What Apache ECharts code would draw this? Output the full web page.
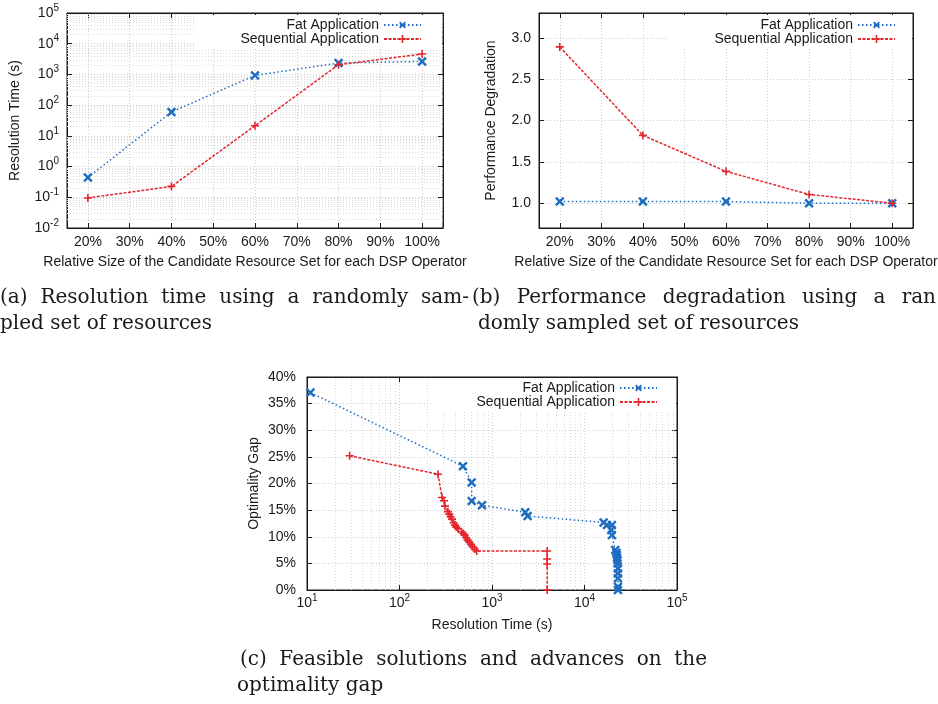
<!DOCTYPE html>
<html>
<head>
<meta charset="utf-8">
<script src="https://cdn.jsdelivr.net/npm/echarts@6/dist/echarts.min.js"></script>
<style>
  html, body { margin: 0; padding: 0; background: #fff; }
  #chart { width: 938px; height: 704px; }
</style>
</head>
<body>
<div id="chart"></div>
<script>
// ---- data ----
const seriesNames = ['Fat Application', 'Sequential Application'];

// (a) / (b): relative size of the candidate resource set (%)
const sizeTicks = [20, 30, 40, 50, 60, 70, 80, 90, 100];
const sizes = [20, 40, 60, 80, 100];
const fatResolution = [0.44, 60, 930, 2350, 2650];
const seqResolution = [0.095, 0.226, 21.4, 2075, 4620];
const fatDegradation = [1.02, 1.02, 1.02, 1.0, 1.0];
const seqDegradation = [2.89, 1.82, 1.385, 1.105, 1.0];
const degradationTicks = [1.0, 1.5, 2.0, 2.5, 3.0];

// (c): resolution time (s) vs optimality gap (%)
const fatGapTime = [10.9, 485, 603, 603, 780, 2290, 2425, 16100, 17500, 19800, 19500, 19800,
  21500, 22100, 22400, 22500, 22800, 22800, 23000, 23000, 23000, 23000, 23000];
const fatGap = [37.07, 23.25, 20.2, 16.7, 15.9, 14.6, 13.9, 12.69, 12.19, 12.19, 11.25, 10.31,
  7.5, 7.0, 6.56, 6.06, 5.62, 5.0, 4.06, 3.12, 2.19, 0.62, 0];
const seqGapTime = [28.9, 261, 288, 303, 310, 334, 345, 357, 369, 385, 398, 411, 429, 469, 489,
  506, 527, 545, 568, 593, 617, 649, 682, 3950, 3950, 3950, 3950];
const seqGap = [25.2, 21.75, 17.37, 16.75, 15.75, 14.69, 14.25, 13.75, 13.31, 12.62, 12.19, 11.81,
  11.5, 10.94, 10.62, 10.31, 9.81, 9.37, 9.0, 8.56, 8.12, 7.69, 7.31, 7.31, 5.81, 4.88, 0];

// log-axis decades that get 2..9 minor grid lines
const resolutionDecades = [0.01, 0.1, 1, 10, 100, 1000, 10000];
const gapTimeDecades = [10, 100, 1000, 10000];
const minorSteps = [2, 3, 4, 5, 6, 7, 8, 9];

// ---- styling ----
const SANS = '"Liberation Sans", Arial, Helvetica, sans-serif';
const SERIF = '"DejaVu Serif", serif';
const INK = '#1a1a1a';
const GRIDLINE = '#cdcdcd';
const MINOR_GRIDLINE = '#dadada';
const BLUE = '#1f6dbf';
const RED = '#e3262d';
const FS = 14;
const PLUS = 'path://M4,0H6V4H10V6H6V10H4V6H0V4H4Z';
const CROSS = 'path://M3.9,0H6.1V3.9H10V6.1H6.1V10H3.9V6.1H0V3.9H3.9Z';

const zip = (xs, ys) => xs.map((x, i) => [x, ys[i]]);
const minorValues = decades => decades.flatMap(d => minorSteps.map(m => +(d * m).toPrecision(6)));

const powLabel = v => '{b|10}{s|' + Math.round(Math.log10(v)) + '}';
const powRich = {
  b: { fontSize: FS, lineHeight: 14, verticalAlign: 'bottom', fontFamily: SANS, color: INK },
  s: { fontSize: 10, lineHeight: 10, verticalAlign: 'bottom', padding: [0, 0, 7, 0], fontFamily: SANS, color: INK }
};

function axis(gridIndex, extra) {
  return Object.assign({
    gridIndex,
    nameLocation: 'middle',
    nameMoveOverlap: false,
    nameTextStyle: { color: INK, fontFamily: SANS, fontSize: FS },
    axisLine: { show: true, onZero: false, lineStyle: { color: INK, width: 1 } },
    axisTick: { show: true, inside: true, length: 5, lineStyle: { color: INK, width: 1 } },
    axisLabel: { color: INK, fontFamily: SANS, fontSize: FS },
    splitLine: { show: true, lineStyle: { color: GRIDLINE, type: [1, 2], width: 1 } }
  }, extra);
}
// tick-only copy of an axis on the opposite side of the frame
function mirror(base, position) {
  return Object.assign({}, base, {
    position, name: '',
    axisLabel: { show: false },
    splitLine: { show: false }
  });
}

// (a)
const xA = axis(0, { type: 'value', position: 'bottom', min: 15, max: 105,
  name: 'Relative Size of the Candidate Resource Set for each DSP Operator', nameGap: 27,
  axisTick: { show: true, inside: true, length: 5, customValues: sizeTicks, lineStyle: { color: INK } },
  axisLabel: { color: INK, fontFamily: SANS, fontSize: FS, margin: 7, customValues: sizeTicks, formatter: '{value}%' } });
const yA = axis(0, { type: 'log', logBase: 10, position: 'left', min: 0.01, max: 100000, splitNumber: 7,
  name: 'Resolution Time (s)', nameGap: 45,
  axisLabel: { color: INK, fontFamily: SANS, fontSize: FS, margin: 8, formatter: powLabel, rich: powRich } });
// (b)
const xB = axis(1, { type: 'value', position: 'bottom', min: 15, max: 105,
  name: 'Relative Size of the Candidate Resource Set for each DSP Operator', nameGap: 27,
  axisTick: { show: true, inside: true, length: 5, customValues: sizeTicks, lineStyle: { color: INK } },
  axisLabel: { color: INK, fontFamily: SANS, fontSize: FS, margin: 7, customValues: sizeTicks, formatter: '{value}%' } });
const yB = axis(1, { type: 'value', position: 'left', min: 0.7, max: 3.3,
  name: 'Performance Degradation', nameGap: 41,
  axisTick: { show: true, inside: true, length: 5, customValues: degradationTicks, lineStyle: { color: INK } },
  axisLabel: { color: INK, fontFamily: SANS, fontSize: FS, margin: 8, customValues: degradationTicks,
    formatter: v => v.toFixed(1) } });
// (c)
const xC = axis(2, { type: 'log', logBase: 10, position: 'bottom', min: 10, max: 100000, splitNumber: 4,
  name: 'Resolution Time (s)', nameGap: 28,
  axisLabel: { color: INK, fontFamily: SANS, fontSize: FS, margin: 6, formatter: powLabel, rich: powRich } });
const yC = axis(2, { type: 'value', position: 'left', min: 0, max: 40, interval: 5,
  name: 'Optimality Gap', nameGap: 46,
  axisLabel: { color: INK, fontFamily: SANS, fontSize: FS, margin: 11, formatter: '{value}%' } });

function minorGrid(dim, values) {
  return {
    silent: true, animation: false, symbol: ['none', 'none'], z: 1,
    label: { show: false }, emphasis: { disabled: true },
    lineStyle: { color: MINOR_GRIDLINE, type: [1, 2], width: 1 },
    data: values.map(v => ({ [dim]: v }))
  };
}

function lineSeries(name, data, xi, yi, extra) {
  const fat = name === seriesNames[0];
  return Object.assign({
    type: 'line', name, data, xAxisIndex: xi, yAxisIndex: yi,
    symbol: fat ? CROSS : PLUS,
    symbolRotate: fat ? 45 : 0,
    symbolSize: fat ? 11 : 8,
    showAllSymbol: true,
    z: 3,
    lineStyle: fat ? { color: BLUE, width: 1.5, type: [1.5, 2.5] } : { color: RED, width: 1.5, type: [3, 1.5] },
    itemStyle: { color: fat ? BLUE : RED },
    emphasis: { disabled: true },
    animation: false
  }, extra);
}

function legendAt(right, top, padRight) {
  return {
    data: seriesNames, orient: 'vertical', align: 'right', right, top,
    itemWidth: 37, itemHeight: 10, itemGap: 0,
    padding: [3, padRight, 3, 46], backgroundColor: '#ffffff', z: 10,
    selectedMode: false,
    textStyle: { fontFamily: SANS, fontSize: FS, lineHeight: 14, color: INK }
  };
}

// ---- captions ----
const measureCtx = document.createElement('canvas').getContext('2d');
measureCtx.font = '20px ' + SERIF;
function captionText(text, x, y) {
  return { type: 'text', x, y, silent: true,
    style: { text, fill: INK, fontFamily: SERIF, fontSize: 20, align: 'left', verticalAlign: 'middle' } };
}
function justifiedLine(words, left, right, y) {
  const widths = words.map(w => measureCtx.measureText(w).width);
  const gap = (right - left - widths.reduce((a, b) => a + b, 0)) / (words.length - 1);
  let x = left;
  return words.map((w, i) => { const el = captionText(w, x, y); x += widths[i] + gap; return el; });
}
const captions = [].concat(
  justifiedLine(['(a)', 'Resolution', 'time', 'using', 'a', 'randomly', 'sam-'], 0, 469, 298),
  [captionText('pled set of resources', 0, 324)],
  justifiedLine(['(b)', 'Performance', 'degradation', 'using', 'a', 'ran'], 472, 936, 298),
  [captionText('domly sampled set of resources', 478, 324)],
  justifiedLine(['(c)', 'Feasible', 'solutions', 'and', 'advances', 'on', 'the'], 240, 707, 660),
  [captionText('optimality gap', 237, 686)]
);

const chart = echarts.init(document.getElementById('chart'), null, { renderer: 'canvas' });
chart.setOption({
  backgroundColor: '#ffffff',
  animation: false,
  textStyle: { fontFamily: SANS },
  grid: [
    { left: 67, top: 13, width: 376, height: 215, show: true, borderColor: INK, borderWidth: 1, outerBoundsMode: 'none', containLabel: false },
    { left: 539, top: 13, width: 374, height: 215, show: true, borderColor: INK, borderWidth: 1, outerBoundsMode: 'none', containLabel: false },
    { left: 307, top: 377, width: 370, height: 213, show: true, borderColor: INK, borderWidth: 1, outerBoundsMode: 'none', containLabel: false }
  ],
  xAxis: [xA, mirror(xA, 'top'), xB, mirror(xB, 'top'), xC, mirror(xC, 'top')],
  yAxis: [yA, mirror(yA, 'right'), yB, mirror(yB, 'right'), yC, mirror(yC, 'right')],
  legend: [legendAt(496, 15, 20), legendAt(26, 15, 16), legendAt(262, 378, 18)],
  series: [
    lineSeries(seriesNames[0], zip(sizes, fatResolution), 0, 0,
      { markLine: minorGrid('yAxis', minorValues(resolutionDecades)) }),
    lineSeries(seriesNames[1], zip(sizes, seqResolution), 0, 0),
    lineSeries(seriesNames[0], zip(sizes, fatDegradation), 2, 2),
    lineSeries(seriesNames[1], zip(sizes, seqDegradation), 2, 2),
    lineSeries(seriesNames[0], zip(fatGapTime, fatGap), 4, 4,
      { markLine: minorGrid('xAxis', minorValues(gapTimeDecades)) }),
    lineSeries(seriesNames[1], zip(seqGapTime, seqGap), 4, 4)
  ],
  graphic: captions
});
</script>
</body>
</html>
